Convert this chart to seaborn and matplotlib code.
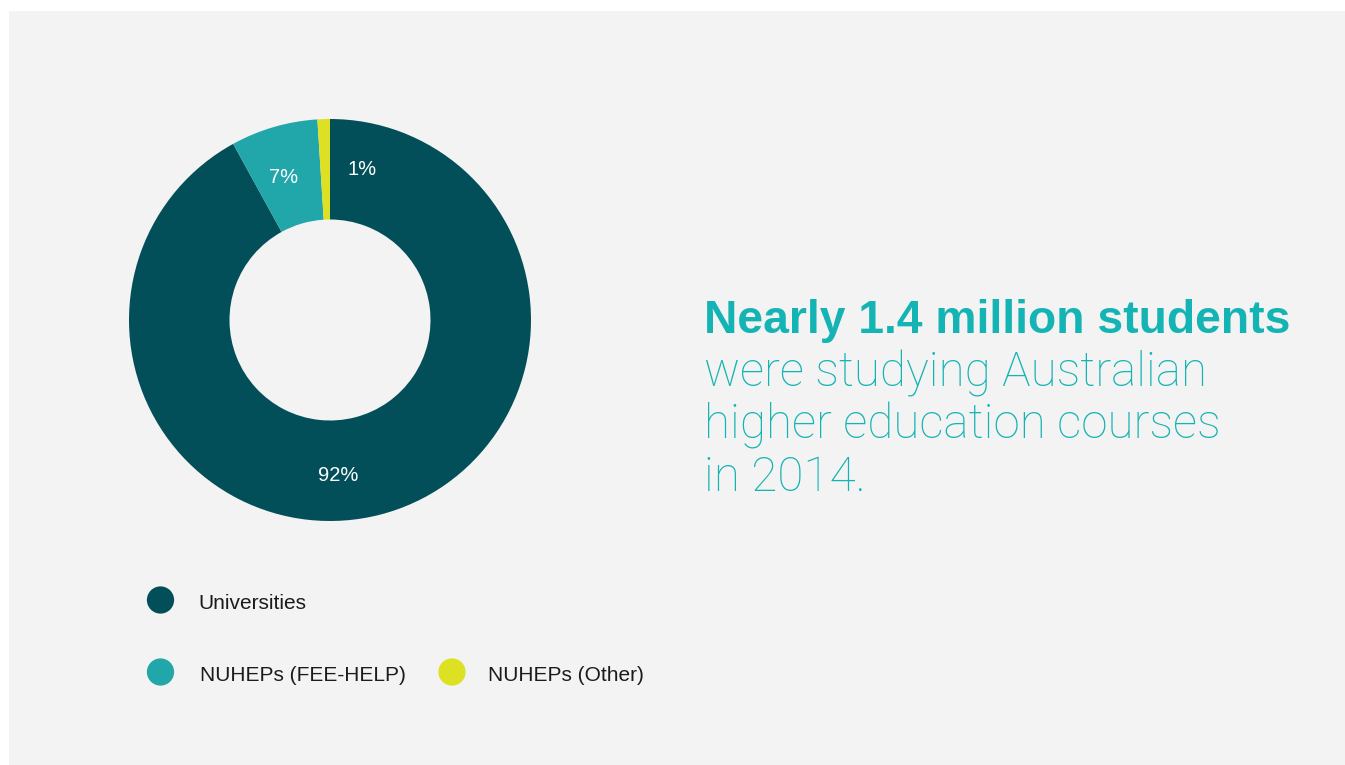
import matplotlib
matplotlib.use("Agg")
import matplotlib.pyplot as plt
from matplotlib.patches import Rectangle
import seaborn as sns

# Share of higher-education students by provider type, 2014
categories = ["Universities", "NUHEPs (FEE-HELP)", "NUHEPs (Other)"]
shares = [92, 7, 1]
share_labels = ["92%", "7%", "1%"]

headline_bold = "Nearly 1.4 million students"
headline_rest = ["were studying Australian", "higher education courses", "in 2014."]

colors = ["#024f5a", "#21a6aa", "#dde023"]
panel_color = "#f2f3f2"
accent = "#14b4b4"

sns.set_theme(style="white")
plt.rcParams["font.family"] = ["Liberation Sans", "DejaVu Sans"]

W, H = 1345, 765
fig = plt.figure(figsize=(W / 100, H / 100), dpi=100, facecolor="white")

# Pixel-space overlay for the panel, legend and headline
over = fig.add_axes([0, 0, 1, 1])
over.set_xlim(0, W)
over.set_ylim(H, 0)
over.axis("off")
over.add_patch(Rectangle((9, 11), W - 9, H - 11, facecolor=panel_color,
                         edgecolor="none", zorder=0))

# Donut chart
cx, cy, r = 330, 320, 201
ax = fig.add_axes([(cx - r) / W, (H - cy - r) / H, 2 * r / W, 2 * r / H])
ax.set_facecolor("none")
ax.pie(shares, colors=colors, startangle=90, counterclock=False,
       radius=1.0, wedgeprops=dict(width=0.5, edgecolor="none"))
ax.set_xlim(-1, 1)
ax.set_ylim(-1, 1)
ax.set_aspect("equal")
ax.axis("off")

label_pos = {"92%": (0.04, -0.776), "7%": (-0.229, 0.711), "1%": (0.159, 0.751)}
for lab in share_labels:
    x, y = label_pos[lab]
    ax.text(x, y, lab, color="white", fontsize=14.5, ha="center", va="center")

# Legend
legend_spots = [(160.5, 600), (160.5, 672), (452, 672)]
text_x = [198, 200, 488]
for (lx, ly), tx, cat, col in zip(legend_spots, text_x, categories, colors):
    over.scatter([lx], [ly], s=385, color=col, edgecolor="none", zorder=3)
    over.text(tx, ly + 3.5, cat, fontsize=15, color="#1b1b1b",
              ha="left", va="center", zorder=3)

# Headline
hx = 704
over.text(hx, 333, headline_bold, fontsize=33.3, fontweight="bold",
          color=accent, ha="left", va="baseline")
for i, line in enumerate(headline_rest):
    over.text(hx, 386 + 52.3 * i, line, fontsize=34.3, color=accent,
              family=["Roboto", "Liberation Sans"], fontweight="light",
              ha="left", va="baseline")

fig.savefig("out.png", dpi=100, facecolor="white")
